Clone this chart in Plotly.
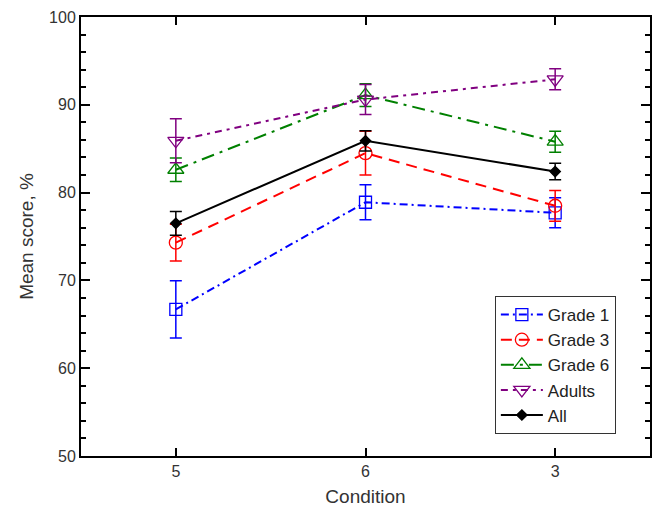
import plotly.graph_objects as go

conditions = ["5", "6", "3"]
grade1 = [66.7, 78.9, 77.7]
grade1_err = [3.25, 2.0, 1.7]
grade3 = [74.3, 84.5, 78.5]
grade3_err = [2.1, 2.5, 1.75]
grade6 = [82.6, 91.1, 85.8]
grade6_err = [1.35, 1.3, 1.2]
adults = [85.9, 90.6, 92.9]
adults_err = [2.5, 1.7, 1.2]
allg = [76.5, 85.9, 82.4]
allg_err = [1.35, 1.15, 0.95]

series = [
    ("Grade 1", grade1, grade1_err, "#0000FF", "8px,4px,2px,4px", "square-open", 12),
    ("Grade 3", grade3, grade3_err, "#FF0000", "11px,7px", "circle-open", 13),
    ("Grade 6", grade6, grade6_err, "#008000", "13px,6px,3px,6px", "triangle-up-open", 14),
    ("Adults", adults, adults_err, "#800080", "7px,5px,3px,5px", "triangle-down-open", 14),
    ("All", allg, allg_err, "#000000", "solid", "diamond", 8),
]

FONT = "Liberation Sans, Arial"
fig = go.Figure()
xs = list(range(len(conditions)))
for name, vals, errs, col, dash, sym, ms in series:
    fig.add_trace(go.Scatter(
        x=xs, y=vals, name=name, mode="lines+markers",
        line=dict(color=col, width=2, dash=dash),
        marker=dict(symbol=sym, size=ms, color=col, line=dict(color=col, width=1.3)),
        error_y=dict(type="data", array=errs, visible=True, color=col, thickness=1.5, width=6),
    ))

axis_common = dict(
    showline=True, linecolor="black", linewidth=2, mirror="allticks",
    ticks="inside", tickcolor="black", tickwidth=2, showgrid=False, zeroline=False,
    tickfont=dict(family=FONT, size=16, color="#333333"),
)
fig.update_xaxes(
    **axis_common, range=[-0.5, 2.5], tickvals=xs, ticktext=conditions, ticklen=8,
    title=dict(text="Condition", font=dict(family=FONT, size=19, color="#333333"), standoff=10),
)
fig.update_yaxes(
    **axis_common, range=[50, 100], tickvals=[50, 60, 70, 80, 90, 100], ticklen=9,
    minor=dict(ticks="inside", dtick=2, ticklen=5, tickcolor="black", tickwidth=2),
    title=dict(text="Mean score, %", font=dict(family=FONT, size=19, color="#333333"), standoff=10),
)
fig.update_layout(
    width=661, height=513,
    margin=dict(l=81, r=9, t=17, b=57),
    plot_bgcolor="white", paper_bgcolor="white",
    legend=dict(
        x=0.94, y=0.05, xanchor="right", yanchor="bottom",
        bordercolor="#333333", borderwidth=1, bgcolor="white",
        font=dict(family=FONT, size=17, color="#222222"),
        itemwidth=42, tracegroupgap=0,
    ),
    showlegend=True,
)
fig.write_html("out.html")
